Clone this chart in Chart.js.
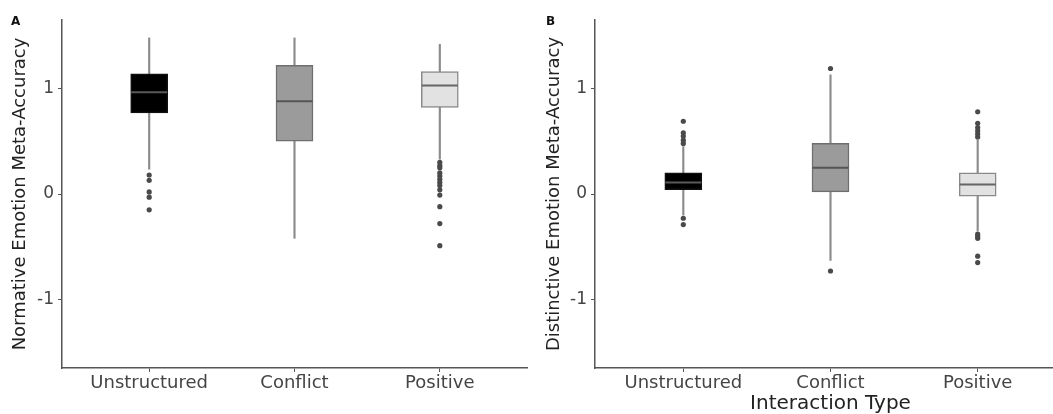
<!DOCTYPE html>
<html>
<head>
<meta charset="utf-8">
<script src="https://cdn.jsdelivr.net/npm/chart.js@4.4.1/dist/chart.umd.min.js"></script>
<style>
  body { margin: 0; background: #fff; overflow: hidden; width: 1053px; height: 414px; position: relative; }
  .panel { position: absolute; top: 0; height: 414px; }
  .tag { position: absolute; font: bold 12px "DejaVu Sans", sans-serif; color: #111; }
</style>
</head>
<body>
<div class="panel" style="left:0;width:547px"><canvas id="chartA"></canvas></div>
<div class="panel" style="left:527px;width:559px"><canvas id="chartB"></canvas></div>
<div class="tag" style="left:11px;top:14px">A</div>
<div class="tag" style="left:546px;top:14px">B</div>
<script>
const categories = ["Unstructured", "Conflict", "Positive"];
const yTicks = [-1, 0, 1];

// panel A - normative emotion meta-accuracy
const normLow = [0.235, -0.42, 0.33];
const normQ1 = [0.77, 0.50, 0.82];
const normMedian = [0.965, 0.88, 1.03];
const normQ3 = [1.14, 1.22, 1.16];
const normHigh = [1.48, 1.48, 1.42];
const normOutliers = [
  [0.18, 0.13, 0.02, -0.03, -0.15],
  [],
  [0.30, 0.27, 0.25, 0.20, 0.17, 0.14, 0.11, 0.08, 0.04, -0.01, -0.12, -0.28, -0.49],
];

// panel B - distinctive emotion meta-accuracy
const distLow = [-0.20, -0.63, -0.35];
const distQ1 = [0.04, 0.02, -0.02];
const distMedian = [0.11, 0.25, 0.09];
const distQ3 = [0.20, 0.48, 0.20];
const distHigh = [0.45, 1.13, 0.52];
const distOutliers = [
  [0.69, 0.58, 0.55, 0.51, 0.48, -0.23, -0.29],
  [1.19, -0.73],
  [0.78, 0.67, 0.63, 0.60, 0.57, 0.54, -0.38, -0.40, -0.42, -0.59, -0.65],
];

const boxFill = ["#000000", "#9b9b9b", "#e2e2e2"];
const boxEdge = ["#111111", "#6e6e6e", "#8a8a8a"];
const medianColor = ["#5a5a5a", "#555555", "#666666"];
const font = "'DejaVu Sans', sans-serif";

const renderPanel = (id, low, q1, med, q3, high, outliers, yTitle, xTitle, yWidth, yTitlePad) => {
  const pos = categories.map((c, i) => i + 1);
  const outlierPts = [];
  outliers.forEach((list, i) => list.forEach((v) => outlierPts.push({ x: pos[i], y: v })));

  new Chart(document.getElementById(id), {
    type: "bar",
    data: {
      datasets: [
        {
          type: "scatter",
          data: med.map((v, i) => ({ x: pos[i], y: v })),
          pointStyle: "line",
          pointRadius: 18,
          pointHoverRadius: 18,
          pointBorderWidth: 2,
          pointBorderColor: medianColor,
          pointBackgroundColor: medianColor,
        },
        {
          data: q1.map((v, i) => ({ x: pos[i], y: [v, q3[i]] })),
          backgroundColor: boxFill,
          borderColor: boxEdge,
          borderWidth: 1.5,
          borderSkipped: false,
          barThickness: 37,
          grouped: false,
        },
        {
          data: low.map((v, i) => ({ x: pos[i], y: [v, high[i]] })),
          backgroundColor: "#8c8c8c",
          barThickness: 1.5,
          grouped: false,
        },
        {
          type: "scatter",
          data: outlierPts,
          pointRadius: 2.6,
          pointBackgroundColor: "#4a4a4a",
          pointBorderWidth: 0,
        },
      ],
    },
    options: {
      responsive: true,
      maintainAspectRatio: false,
      animation: false,
      layout: { padding: { top: 15, right: 0, left: 0, bottom: 0 } },
      plugins: { legend: { display: false }, tooltip: { enabled: false } },
      scales: {
        x: {
          type: "linear",
          offset: false,
          min: 0.4,
          max: 3.6,
          afterBuildTicks: (scale) => { scale.ticks = pos.map((v) => ({ value: v })); },
          afterFit: (scale) => { scale.height = 46; },
          ticks: {
            callback: (v) => categories[v - 1],
            color: "#444",
            font: { family: font, size: 18 },
            padding: 1,
            maxRotation: 0,
          },
          grid: { offset: false, drawOnChartArea: false, tickLength: 4, color: "#555" },
          border: { color: "#555", width: 1.5 },
          title: {
            display: !!xTitle,
            text: xTitle,
            color: "#222",
            font: { family: font, size: 20, lineHeight: 1 },
            padding: { top: 5, bottom: 0 },
          },
        },
        y: {
          min: -1.65,
          max: 1.65,
          afterBuildTicks: (scale) => { scale.ticks = yTicks.map((v) => ({ value: v })); },
          afterFit: (scale) => { scale.width = yWidth; },
          ticks: { color: "#444", font: { family: font, size: 17 }, padding: 4 },
          grid: { drawOnChartArea: false, tickLength: 4, color: "#555" },
          border: { color: "#555", width: 1.5 },
          title: {
            display: true,
            text: yTitle,
            color: "#222",
            font: { family: font, size: 18 },
            padding: { top: yTitlePad, bottom: 0 },
          },
        },
      },
    },
  });
};

renderPanel("chartA", normLow, normQ1, normMedian, normQ3, normHigh, normOutliers,
  "Normative Emotion Meta-Accuracy", "", 62, 10);
renderPanel("chartB", distLow, distQ1, distMedian, distQ3, distHigh, distOutliers,
  "Distinctive Emotion Meta-Accuracy", "Interaction Type", 68, 17);
</script>
</body>
</html>
